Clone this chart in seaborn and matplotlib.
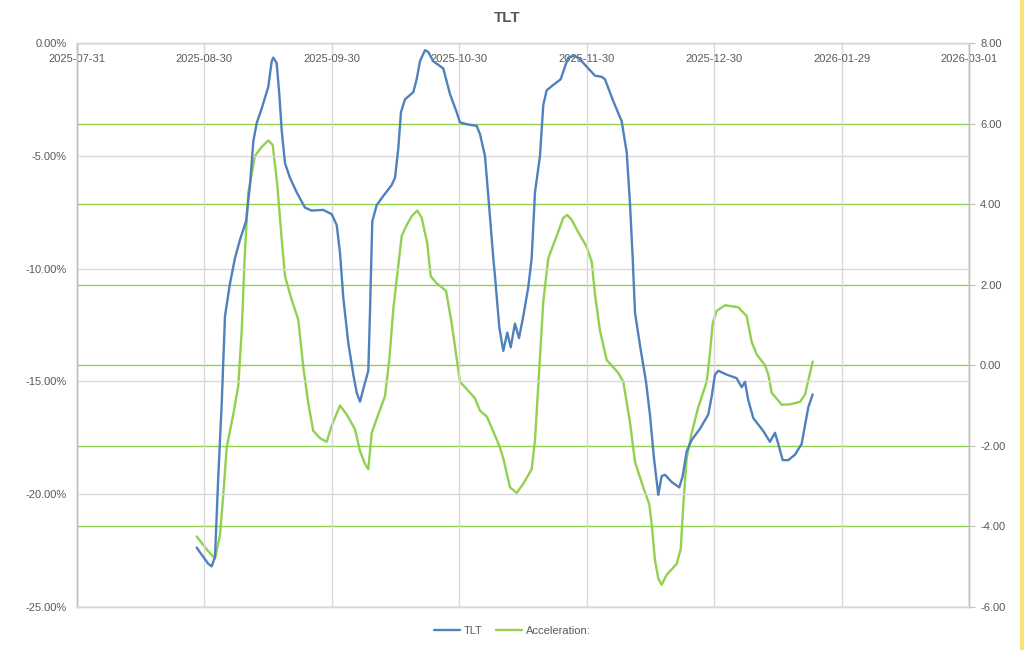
import pandas as pd
import matplotlib
matplotlib.use('Agg')
import matplotlib.pyplot as plt
import matplotlib.dates as mdates
from matplotlib.ticker import FuncFormatter, MultipleLocator
from matplotlib.patches import Rectangle
import seaborn as sns

# --- Data ---
start_date = '2025-07-31'

# TLT drawdown (%), x given as days after start_date
tlt_days = [28.58, 31.35, 32.16, 32.95, 33.74, 34.55, 35.34, 36.53, 37.73, 38.92,
            40.35, 41.31, 42.10, 42.91, 44.10, 45.68, 46.49, 46.87, 47.68, 48.30,
            48.88, 49.67, 50.86, 52.46, 54.44, 56.04, 58.81, 60.82, 62.01, 62.80,
            63.59, 64.78, 65.98, 66.79, 67.57, 68.36, 69.56, 69.96, 70.51, 71.56,
            73.14, 75.14, 75.93, 76.72, 77.36, 78.32, 80.30, 81.11, 81.90, 83.09,
            83.88, 85.08, 87.46, 89.06, 90.66, 91.45, 93.05, 95.44, 96.23, 97.42,
            98.21, 99.40, 99.81, 100.84, 101.79, 102.75, 103.56, 104.58, 105.54, 106.57,
            107.76, 108.57, 109.36, 110.55, 111.34, 112.15, 113.73, 115.50, 116.52, 117.31,
            118.91, 120.11, 122.09, 123.69, 125.29, 126.07, 128.06, 130.06, 131.26, 132.04,
            132.69, 133.24, 134.43, 135.86, 136.82, 137.77, 138.80, 139.61, 140.40, 142.00,
            143.82, 144.63, 145.58, 146.78, 148.76, 150.74, 151.55, 152.34, 153.13, 155.13,
            157.52, 158.72, 159.50, 160.29, 161.49, 163.87, 165.47, 166.67, 167.45, 168.51,
            169.84, 171.44, 173.04, 173.83, 174.62, 175.67]
tlt_values = [-22.37, -23.09, -23.20, -22.77, -19.2, -16.0, -12.1, -10.66, -9.53, -8.72,
              -7.91, -6.3, -4.36, -3.55, -2.91, -1.94, -0.81, -0.65, -0.89, -2.26,
              -3.88, -5.33, -5.98, -6.62, -7.30, -7.43, -7.40, -7.59, -8.07, -9.3,
              -11.3, -13.3, -14.70, -15.50, -15.90, -15.34, -14.53, -11.95, -7.91, -7.19,
              -6.78, -6.30, -5.98, -4.68, -3.07, -2.50, -2.18, -1.61, -0.81, -0.32,
              -0.40, -0.81, -1.13, -2.26, -3.07, -3.52, -3.60, -3.68, -4.04, -5.01,
              -6.78, -9.53, -10.34, -12.6, -13.65, -12.84, -13.49, -12.44, -13.08, -12.11,
              -10.82, -9.53, -6.62, -5.01, -2.75, -2.10, -1.86, -1.61, -1.05, -0.65,
              -0.57, -0.73, -1.13, -1.45, -1.50, -1.61, -2.58, -3.47, -4.85, -7.1,
              -9.53, -11.95, -13.4, -15.0, -16.5, -18.4, -20.03, -19.2, -19.14, -19.46,
              -19.7, -19.2, -18.1, -17.6, -17.1, -16.47, -15.67, -14.7, -14.53, -14.7,
              -14.86, -15.26, -15.02, -15.83, -16.63, -17.2, -17.68, -17.28, -17.77, -18.49,
              -18.49, -18.25, -17.77, -16.96, -16.15, -15.58]

# Acceleration (right axis), x given as days after start_date
accel_days = [28.58, 30.97, 32.95, 34.15, 34.93, 35.75, 37.32, 38.52, 39.33, 40.11,
              40.90, 42.50, 44.10, 45.68, 46.73, 47.83, 48.88, 49.67, 51.27, 52.84,
              54.04, 55.23, 56.42, 58.02, 59.62, 60.82, 62.80, 64.40, 66.38, 67.57,
              68.77, 69.56, 70.37, 71.94, 73.54, 74.57, 75.53, 76.72, 77.53, 78.73,
              79.92, 81.26, 82.31, 83.64, 84.46, 85.89, 88.11, 89.47, 91.45, 93.05,
              95.03, 96.23, 97.83, 99.02, 100.84, 101.79, 103.39, 104.99, 106.57, 108.57,
              109.36, 110.15, 111.34, 112.54, 114.54, 116.12, 117.07, 118.12, 119.70, 121.70,
              122.90, 123.69, 124.88, 126.48, 129.25, 130.44, 132.04, 133.24, 135.22, 136.65,
              137.22, 138.01, 138.80, 139.61, 140.81, 143.19, 144.15, 144.77, 145.58, 146.78,
              148.35, 150.36, 151.15, 151.79, 152.75, 154.73, 157.90, 159.91, 161.10, 162.30,
              164.28, 165.07, 165.88, 168.27, 170.25, 172.64, 173.83, 175.67]
accel_values = [-4.25, -4.57, -4.80, -4.21, -3.21, -2.04, -1.22, -0.50, 0.86, 2.84,
                4.29, 5.20, 5.42, 5.58, 5.47, 4.47, 3.12, 2.21, 1.62, 1.13,
                -0.05, -0.95, -1.63, -1.81, -1.90, -1.50, -1.00, -1.22, -1.59, -2.13,
                -2.45, -2.58, -1.68, -1.22, -0.77, 0.13, 1.40, 2.48, 3.21, 3.48,
                3.70, 3.84, 3.66, 3.03, 2.21, 2.03, 1.85, 1.04, -0.41, -0.59,
                -0.82, -1.13, -1.27, -1.55, -2.0, -2.31, -3.03, -3.17, -2.94, -2.58,
                -1.86, -0.50, 1.58, 2.66, 3.21, 3.66, 3.73, 3.61, 3.30, 2.94,
                2.57, 1.76, 0.86, 0.13, -0.19, -0.41, -1.41, -2.40, -3.03, -3.45,
                -3.94, -4.84, -5.29, -5.45, -5.20, -4.93, -4.57, -3.49, -2.31, -1.68,
                -1.04, -0.41, 0.31, 1.04, 1.35, 1.49, 1.44, 1.22, 0.58, 0.27,
                0.00, -0.23, -0.68, -0.98, -0.97, -0.91, -0.73, 0.09]

tick_labels = ['2025-07-31', '2025-08-30', '2025-09-30', '2025-10-30',
               '2025-11-30', '2025-12-30', '2026-01-29', '2026-03-01']
axis_end = '2026-03-01'

# --- Build frames ---
t0 = pd.Timestamp(start_date)
df_tlt = pd.DataFrame({'Date': t0 + pd.to_timedelta(tlt_days, unit='D'),
                       'TLT': tlt_values})
df_acc = pd.DataFrame({'Date': t0 + pd.to_timedelta(accel_days, unit='D'),
                       'Acceleration:': accel_values})

sns.set_style('white')
plt.rcParams['font.family'] = ['Liberation Sans', 'DejaVu Sans']

blue = '#4F81BD'
green = '#92D050'
grid_gray = '#D9D9D9'
text_gray = '#595959'

fig = plt.figure(figsize=(10.24, 6.5), dpi=100)
ax = fig.add_axes([0.0752, 0.0662, 0.8711, 0.8677])
ax2 = ax.twinx()
# accel axes below, TLT axes on top (transparent)
ax2.set_zorder(0)
ax.set_zorder(1)
ax.patch.set_visible(False)

sns.lineplot(data=df_acc, x='Date', y='Acceleration:', ax=ax2, color=green,
             linewidth=1.7, label='Acceleration:', legend=False,
             solid_joinstyle='round', solid_capstyle='round')
sns.lineplot(data=df_tlt, x='Date', y='TLT', ax=ax, color=blue,
             linewidth=1.7, label='TLT', legend=False,
             solid_joinstyle='round', solid_capstyle='round')

# x axis: evenly spaced ticks, labels at top inside the plot
x_start = mdates.date2num(pd.Timestamp(start_date))
x_end = mdates.date2num(pd.Timestamp(axis_end))
ticks = [x_start + (x_end - x_start) * i / (len(tick_labels) - 1) for i in range(len(tick_labels))]
ax.set_xlim(x_start, x_end)
ax.set_xticks(ticks)
ax.set_xticklabels(tick_labels)
ax.tick_params(axis='x', top=False, bottom=False, labeltop=True, labelbottom=False,
               pad=-19, labelsize=8, labelcolor=text_gray)
ax.grid(axis='x', color=grid_gray, linewidth=1.0)

# left axis
ax.set_ylim(-25, 0)
ax.yaxis.set_major_locator(MultipleLocator(5))
ax.yaxis.set_major_formatter(FuncFormatter(lambda v, p: f'{v:.2f}%'))
ax.tick_params(axis='y', left=False, labelsize=8, labelcolor=text_gray, pad=4)
ax.grid(axis='y', color=grid_gray, linewidth=1.0)

# right axis
ax2.set_ylim(-6, 8)
ax2.yaxis.set_major_locator(MultipleLocator(2))
ax2.yaxis.set_major_formatter(FuncFormatter(lambda v, p: f'{v:.2f}'))
ax2.tick_params(axis='y', right=True, length=4, color='#BFBFBF', labelsize=8,
                labelcolor=text_gray, pad=4)
ax2.grid(axis='y', color=green, linewidth=1.0)
ax2.grid(axis='x', visible=False)

ax.set_xlabel('')
ax.set_ylabel('')
ax2.set_ylabel('')

for a in (ax, ax2):
    for side, sp in a.spines.items():
        sp.set_color(grid_gray)
        sp.set_linewidth(1.0)
    a.spines['left'].set_color('#BFBFBF')
    a.spines['right'].set_color('#BFBFBF')

# title
fig.text(0.495, 0.972, 'TLT', ha='center', va='center', fontsize=11,
         fontweight='bold', color=text_gray)

# legend
h1, l1 = ax.get_legend_handles_labels()
h2, l2 = ax2.get_legend_handles_labels()
fig.legend(h1 + h2, l1 + l2, loc='center', bbox_to_anchor=(0.5, 0.029), ncol=2,
           frameon=False, fontsize=8, labelcolor=text_gray, handlelength=2.4,
           handletextpad=0.3, columnspacing=1.2)

# yellow strip at right edge
fig.patches.append(Rectangle((1020 / 1024, 0), 4 / 1024, 1, transform=fig.transFigure,
                             color='#F9E27A', zorder=0))

fig.savefig('out.png', dpi=100)
